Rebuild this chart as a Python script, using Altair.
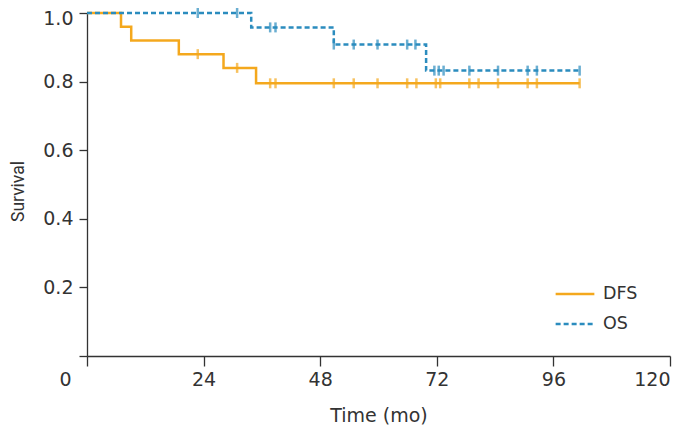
import altair as alt
import pandas as pd

# Kaplan-Meier step points (time in months, survival)
dfs_time = [0, 7.0, 9.1, 18.9, 28.1, 34.8, 101.4]
dfs_surv = [1.0, 0.96, 0.92, 0.88, 0.84, 0.795, 0.795]
os_time = [0, 33.8, 50.8, 69.8, 101.4]
os_surv = [1.0, 0.958, 0.908, 0.832, 0.832]

# censoring times
dfs_cens = [22.8, 30.9, 37.7, 38.8, 50.8, 54.9, 59.8, 65.9, 67.8, 71.8, 72.7,
            78.7, 80.6, 84.6, 90.7, 92.6, 101.4]
os_cens = [22.8, 30.9, 37.7, 38.8, 50.8, 54.9, 59.8, 65.9, 67.6, 71.5, 72.4,
           73.4, 78.7, 84.6, 90.7, 92.6, 101.4]

series = ["DFS", "OS"]
colors = ["#F4A81D", "#2B8CBE"]
x_ticks = [0, 24, 48, 72, 96, 120]
y_ticks = [0, 0.2, 0.4, 0.6, 0.8, 1.0]


def km_at(times, survs, t):
    v = survs[0]
    for tt, s in zip(times, survs):
        if tt <= t:
            v = s
    return v


lines = pd.DataFrame(
    [{"time": t, "surv": s, "group": "DFS"} for t, s in zip(dfs_time, dfs_surv)]
    + [{"time": t, "surv": s, "group": "OS"} for t, s in zip(os_time, os_surv)]
)
cens_dfs = pd.DataFrame({"time": dfs_cens,
                         "surv": [km_at(dfs_time, dfs_surv, t) for t in dfs_cens]})
cens_os = pd.DataFrame({"time": os_cens,
                        "surv": [km_at(os_time, os_surv, t) for t in os_cens]})

FONT = "DejaVu Sans"
YT_FONT = "Roboto"
AX = "#333333"

x_enc = alt.X(
    "time:Q",
    scale=alt.Scale(domain=[0, 120], nice=False, zero=False),
    axis=alt.Axis(
        values=x_ticks, title="Time (mo)", grid=False, tickSize=10,
        labelPadding=4, labelFontSize=19, titleFontSize=19,
        labelOffset={"expr": "datum.value === 0 ? -28 : 0"},
        titleFontWeight="normal", titleY=59, titleBaseline="middle",
    ),
)
y_enc = alt.Y(
    "surv:Q",
    scale=alt.Scale(domain=[0, 1], nice=False),
    axis=alt.Axis(
        values=y_ticks, title="Survival", grid=False, tickSize=8,
        labelPadding=6, labelFontSize=19, titleFontSize=17.5,
        labelExpr="datum.value === 0 ? '' : format(datum.value, '.1f')",
        labelOffset={"expr": "datum.value === 1 ? 5 : 0"},
        titleFont=YT_FONT,
        titleFontWeight="normal", titleX=-69, titleY=178,
        titleAngle=-90, titleAlign="center", titleBaseline="middle",
    ),
)

leg = alt.Legend(
    title=None, orient="none", legendX=467, legendY=271,
    symbolType="stroke", symbolSize=1500, symbolStrokeWidth=2.5,
    labelFontSize=17.5, labelOffset=7, rowPadding=10, padding=0,
    clipHeight=20,
)

line_layer = alt.Chart(lines).mark_line(interpolate="step-after", strokeWidth=2.5).encode(
    x=x_enc,
    y=y_enc,
    color=alt.Color(
        "group:N",
        scale=alt.Scale(domain=series, range=colors),
        legend=leg,
    ),
    strokeDash=alt.StrokeDash(
        "group:N",
        scale=alt.Scale(domain=series, range=[[1, 0], [5, 3]]),
        legend=leg,
    ),
)

tick_dfs = alt.Chart(cens_dfs).mark_tick(
    orient="vertical", size=10, thickness=2.5, color=colors[0]
).encode(x="time:Q", y="surv:Q")
tick_os = alt.Chart(cens_os).mark_tick(
    orient="vertical", size=10, thickness=2.5, color=colors[1]
).encode(x="time:Q", y="surv:Q")

chart = (
    alt.layer(line_layer, tick_dfs, tick_os)
    .properties(
        width=583, height=343,
        autosize=alt.AutoSizeParams(type="none"),
        padding={"left": 79, "top": 5, "right": 8, "bottom": 69},
    )
    .configure_view(stroke=None)
    .configure_axis(
        labelFont=FONT, titleFont=FONT, labelColor=AX, titleColor=AX,
        domainColor=AX, tickColor=AX, domainWidth=1.3, tickWidth=1.3,
    )
    .configure_legend(labelFont=FONT, labelColor=AX)
)

chart.save("out.html", embed_options={"renderer": "svg", "actions": False})
